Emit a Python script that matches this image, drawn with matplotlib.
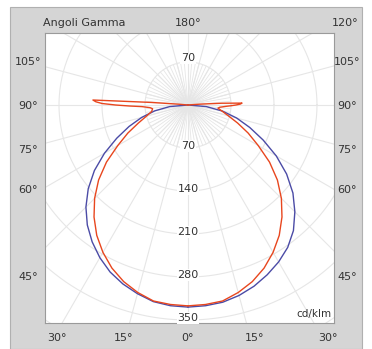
import numpy as np
import matplotlib.pyplot as plt

# gamma angles (deg) and intensities (cd/klm)
gamma_blue = [0, 5, 10, 15, 20, 25, 30, 35, 40, 45, 50, 55, 60, 65, 70, 75, 80, 85, 90]
blue_left = [329, 328, 325, 318, 310, 300, 287, 272, 255, 235, 212, 186, 157, 128, 102, 78, 55, 30, 0]
blue_right = [329, 328, 326, 321, 314, 305, 295, 283, 267, 246, 223, 196, 166, 135, 107, 82, 57, 30, 0]

gamma_red = [0, 5, 10, 15, 20, 25, 30, 35, 40, 45, 50, 55, 60, 65, 70, 75, 80,
             84, 86, 88, 89, 90, 91, 92, 93, 94, 95, 96]
red_left = [327, 326, 324, 316, 306, 293, 277, 259, 238, 215, 190, 162, 132, 108, 86, 70, 60,
            58, 62, 75, 95, 118, 140, 150, 155, 60, 15, 0]
red_right = [327, 326, 324, 316, 306, 293, 277, 259, 238, 215, 190, 162, 132, 108, 86, 68, 56,
             49, 52, 62, 70, 78, 85, 88, 55, 20, 5, 0]

rings = [70, 140, 210, 280, 350, 420]
ring_labels = ['70', '140', '210', '280', '350']

side_labels = ['105°', '90°', '75°', '60°', '45°']
side_y = [62, 106, 150, 190, 277]
bottom_labels = ['30°', '15°', '0°', '15°', '30°']
bottom_x = [57, 124, 188, 255, 328]

W, H = 372, 349
fig = plt.figure(figsize=(W / 100, H / 100), dpi=100)
fig.patch.set_facecolor('white')

# gray panel
panel = plt.Rectangle((10 / W, 0), 352 / W, 1 - 7 / H, transform=fig.transFigure,
                      facecolor='#d5d5d5', edgecolor='#b0b0b0', lw=0.8, zorder=-10)
fig.patches.append(panel)

ax = fig.add_axes([45 / W, 26 / H, 289 / W, 290 / H])
ax.set_facecolor('white')
k = 70 / 43  # cd/klm per pixel
cx, cy = 188, 105
ax.set_xlim((45 - cx) * k, (334 - cx) * k)
ax.set_ylim(-(323 - cy) * k, (cy - 33) * k)
ax.set_xticks([])
ax.set_yticks([])
for s in ax.spines.values():
    s.set_color('#9a9a9a')
    s.set_linewidth(0.8)

gc = '#e6e6e6'
t = np.linspace(0, 2 * np.pi, 400)
for r in rings:
    ax.plot(r * np.cos(t), r * np.sin(t), color=gc, lw=0.8, zorder=1)
for a in np.arange(0, 360, 15):
    ar = np.radians(a)
    ax.plot([0, 600 * np.sin(ar)], [0, -600 * np.cos(ar)], color=gc, lw=0.8, zorder=1)
for a in np.arange(0, 360, 5):
    ar = np.radians(a)
    ax.plot([0, 70 * np.sin(ar)], [0, -70 * np.cos(ar)], color=gc, lw=0.6, zorder=1)

gb = np.radians(gamma_blue)
bl = np.array(blue_left)
br = np.array(blue_right)
ax.plot(-bl * np.sin(gb), -bl * np.cos(gb), color='#4b4ba6', lw=1.0, zorder=3)
ax.plot(br * np.sin(gb), -br * np.cos(gb), color='#4b4ba6', lw=1.0, zorder=3)

gr = np.radians(gamma_red)
rl = np.array(red_left)
rr = np.array(red_right)
ax.plot(-rl * np.sin(gr), -rl * np.cos(gr), color='#e8461e', lw=1.0, zorder=4)
ax.plot(rr * np.sin(gr), -rr * np.cos(gr), color='#e8461e', lw=1.0, zorder=4)

tc = '#333333'
ax.text(0, 76, '70', ha='center', va='center', fontsize=8, color=tc, zorder=5,
        bbox=dict(fc='white', ec='none', pad=0.5))
for r, lab in zip(rings, ring_labels):
    ax.text(0, -r + 3, lab, ha='center', va='center', fontsize=8, color=tc, zorder=5,
            bbox=dict(fc='white', ec='none', pad=0.5))
ax.text(0.99, 0.015, 'cd/klm', transform=ax.transAxes, ha='right', va='bottom',
        fontsize=7.5, color=tc, zorder=5)

def ftext(x, y, s, ha='center'):
    fig.text(x / W, 1 - y / H, s, ha=ha, va='center', fontsize=8, color=tc)

ftext(43, 23, 'Angoli Gamma', ha='left')
ftext(188, 23, '180°')
ftext(345, 23, '120°')
for lab, y in zip(side_labels, side_y):
    ftext(28, y, lab)
    ftext(347, y, lab)
for lab, x in zip(bottom_labels, bottom_x):
    ftext(x, 338, lab)

fig.savefig('out.png', dpi=100)
